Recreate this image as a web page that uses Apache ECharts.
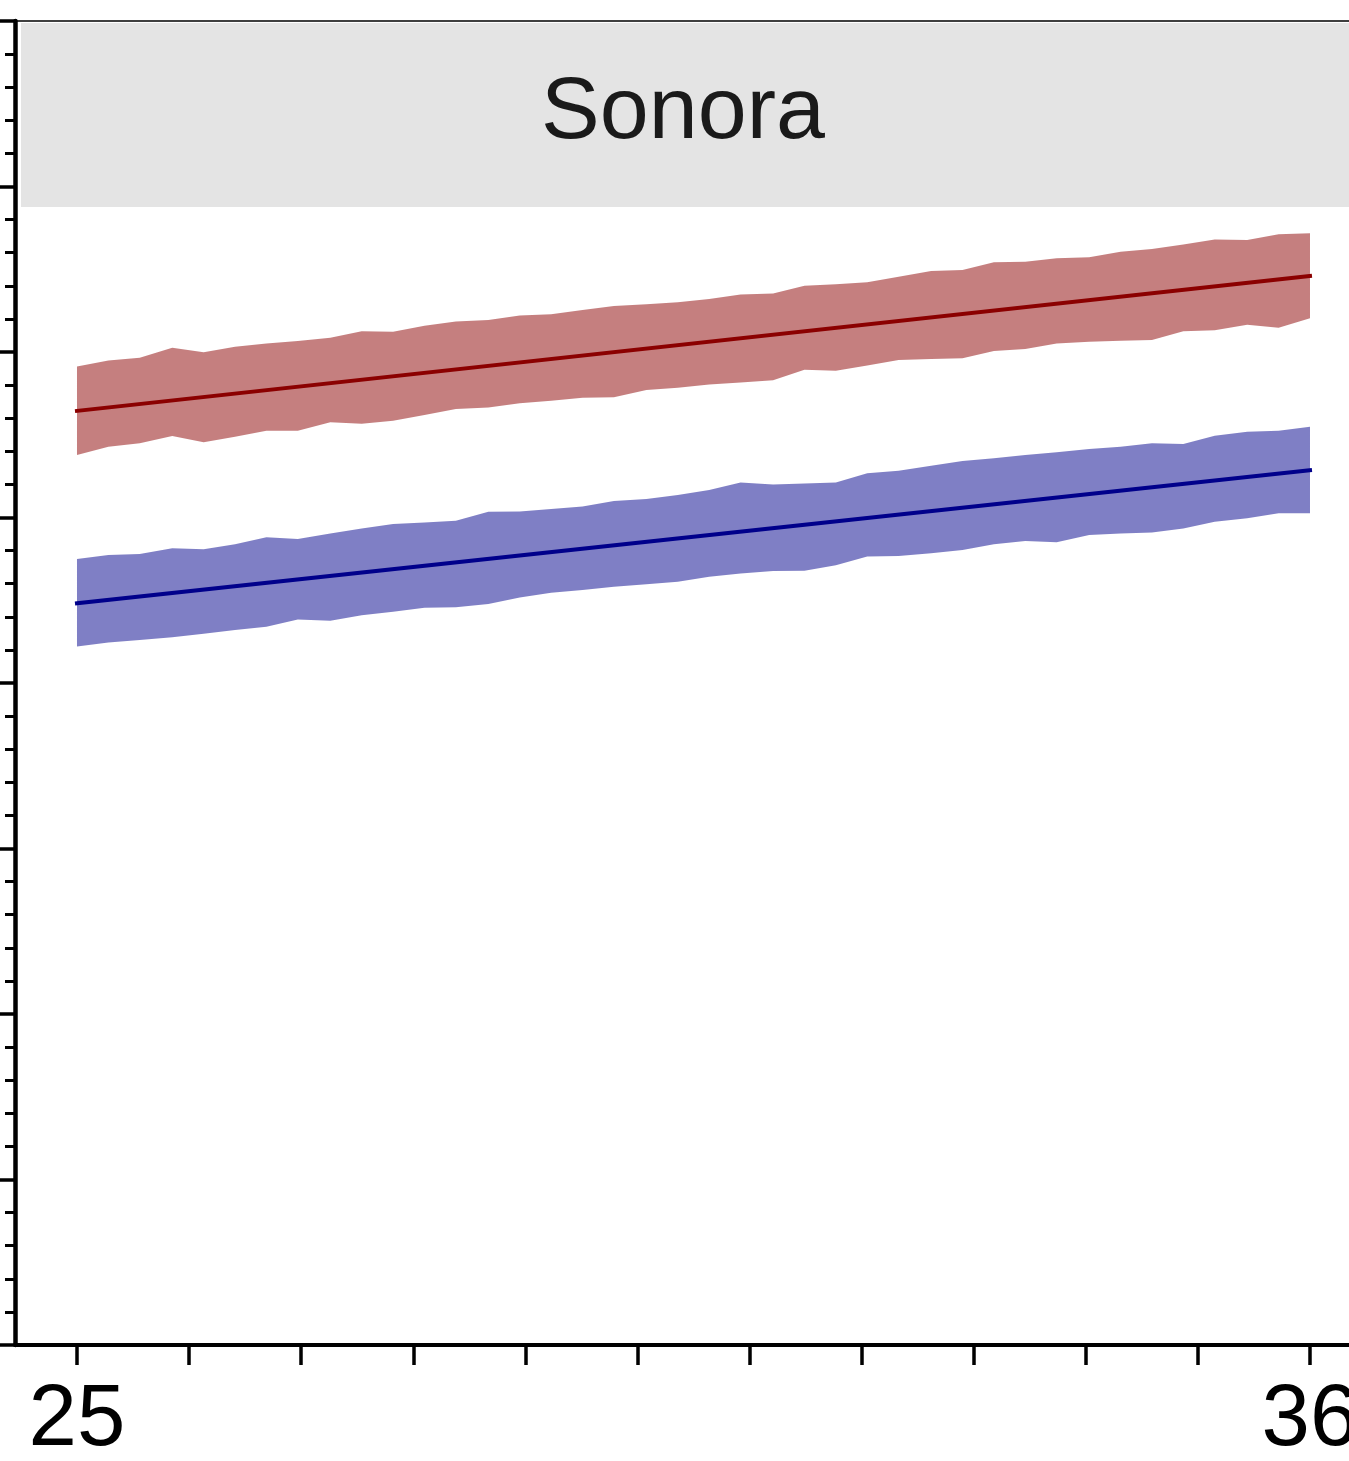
<!DOCTYPE html>
<html>
<head>
<meta charset="utf-8">
<script src="https://cdn.jsdelivr.net/npm/echarts@6/dist/echarts.min.js"></script>
<style>
html,body{margin:0;padding:0;background:#ffffff;}
#chart{width:1349px;height:1461px;}
</style>
</head>
<body>
<div id="chart"></div>
<script>
// ---------- data ----------
const panelTitle = 'Sonora';

const xValues = [25.00, 25.28, 25.56, 25.85, 26.13, 26.41, 26.69, 26.97, 27.26, 27.54,
                 27.82, 28.10, 28.38, 28.67, 28.95, 29.23, 29.51, 29.79, 30.08, 30.36,
                 30.64, 30.92, 31.21, 31.49, 31.77, 32.05, 32.33, 32.62, 32.90, 33.18,
                 33.46, 33.74, 34.03, 34.31, 34.59, 34.87, 35.15, 35.44, 35.72, 36.00];

const redUpper = [29.56, 29.74, 29.83, 30.13, 29.99, 30.16, 30.26, 30.33, 30.43, 30.63,
                  30.61, 30.79, 30.92, 30.97, 31.10, 31.14, 31.27, 31.39, 31.44, 31.50,
                  31.60, 31.74, 31.77, 32.00, 32.05, 32.11, 32.27, 32.45, 32.48, 32.71,
                  32.73, 32.83, 32.86, 33.03, 33.11, 33.25, 33.40, 33.38, 33.56, 33.59];
const redLower = [26.89, 27.14, 27.24, 27.46, 27.27, 27.44, 27.62, 27.62, 27.88, 27.83,
                  27.92, 28.10, 28.28, 28.32, 28.45, 28.53, 28.62, 28.63, 28.85, 28.92,
                  29.02, 29.08, 29.15, 29.46, 29.43, 29.59, 29.76, 29.79, 29.81, 30.03,
                  30.09, 30.26, 30.31, 30.34, 30.36, 30.63, 30.66, 30.82, 30.73, 31.02];
const blueUpper = [23.75, 23.87, 23.90, 24.07, 24.04, 24.19, 24.40, 24.35, 24.52, 24.67,
                   24.80, 24.85, 24.90, 25.17, 25.18, 25.26, 25.33, 25.50, 25.56, 25.68,
                   25.83, 26.06, 26.00, 26.03, 26.06, 26.34, 26.41, 26.56, 26.71, 26.79,
                   26.89, 26.97, 27.07, 27.14, 27.24, 27.22, 27.47, 27.59, 27.62, 27.74];
const blueLower = [21.10, 21.22, 21.30, 21.38, 21.49, 21.60, 21.70, 21.92, 21.88, 22.05,
                   22.15, 22.27, 22.29, 22.39, 22.58, 22.73, 22.81, 22.91, 22.98, 23.06,
                   23.21, 23.31, 23.38, 23.39, 23.56, 23.82, 23.84, 23.92, 24.02, 24.19,
                   24.29, 24.25, 24.47, 24.52, 24.55, 24.67, 24.87, 24.98, 25.13, 25.13];

// fitted lines: [x, y] at both ends
const redLine  = [[25, 28.22], [36, 32.30]];
const blueLine = [[25, 22.41], [36, 26.43]];

// axis ticks / labels
const xTickValues  = [25, 26, 27, 28, 29, 30, 31, 32, 33, 34, 35, 36];
const xLabelValues = [25, 36];

// ---------- chart ----------
function ribbon(name, lower, upper, fill) {
  return {
    type: 'custom',
    name: name,
    z: 2,
    silent: true,
    encode: { x: 0, y: [1, 2] },
    data: xValues.map(function (x, i) { return [x, lower[i], upper[i]]; }),
    renderItem: function (params, api) {
      if (params.dataIndex !== 0) return null;
      const pts = [];
      for (let i = 0; i < xValues.length; i++) pts.push(api.coord([xValues[i], upper[i]]));
      for (let i = xValues.length - 1; i >= 0; i--) pts.push(api.coord([xValues[i], lower[i]]));
      return { type: 'polygon', shape: { points: pts }, style: { fill: fill, stroke: null } };
    }
  };
}

function fitLine(name, data, color) {
  return {
    type: 'line',
    name: name,
    z: 3,
    data: data,
    showSymbol: false,
    silent: true,
    lineStyle: { color: color, width: 4, cap: 'square' }
  };
}

const chart = echarts.init(document.getElementById('chart'), null, { renderer: 'canvas' });

chart.setOption({
  animation: false,
  backgroundColor: '#ffffff',
  grid: {
    left: 15, top: 21, right: 0, height: 1324, show: false,
    containLabel: false, outerBoundsMode: 'none'
  },
  xAxis: [
    {
      type: 'value',
      min: 24.447, max: 36.348,
      axisLine: { show: true, onZero: false, lineStyle: { color: '#000000', width: 4 } },
      axisTick: { show: true, customValues: xTickValues, length: 20, lineStyle: { color: '#000000', width: 3.5 } },
      axisLabel: {
        show: true, customValues: xLabelValues, margin: 33,
        fontFamily: 'Liberation Sans', fontSize: 87, color: '#000000'
      },
      splitLine: { show: false }
    },
    {
      type: 'value', position: 'top',
      min: 24.447, max: 36.348,
      axisLine: { show: true, onZero: false, lineStyle: { color: '#000000', width: 1.5 } },
      axisTick: { show: false },
      axisLabel: { show: false },
      splitLine: { show: false }
    }
  ],
  yAxis: {
    type: 'value',
    min: 0, max: 40, interval: 5,
    axisLine: { show: true, onZero: false, lineStyle: { color: '#000000', width: 4.5 } },
    axisTick: { show: true, length: 16, lineStyle: { color: '#000000', width: 3.5 } },
    minorTick: { show: true, splitNumber: 5, length: 10, lineStyle: { color: '#000000', width: 3 } },
    axisLabel: { show: false },
    splitLine: { show: false },
    minorSplitLine: { show: false }
  },
  graphic: [
    {
      type: 'rect', z: 1, silent: true,
      shape: { x: 21, y: 23, width: 1400, height: 184 },
      style: { fill: '#e4e4e4' }
    },
    {
      type: 'text', z: 2, silent: true,
      x: 683, y: 114,
      style: {
        text: panelTitle, fill: '#1a1a1a',
        font: '88px "Liberation Sans"',
        textAlign: 'center', textVerticalAlign: 'middle'
      }
    }
  ],
  series: [
    ribbon('red band', redLower, redUpper, 'rgba(139,0,0,0.5)'),
    ribbon('blue band', blueLower, blueUpper, 'rgba(0,0,139,0.5)'),
    fitLine('red fit', redLine, '#8b0000'),
    fitLine('blue fit', blueLine, '#00008b')
  ]
});
</script>
</body>
</html>
